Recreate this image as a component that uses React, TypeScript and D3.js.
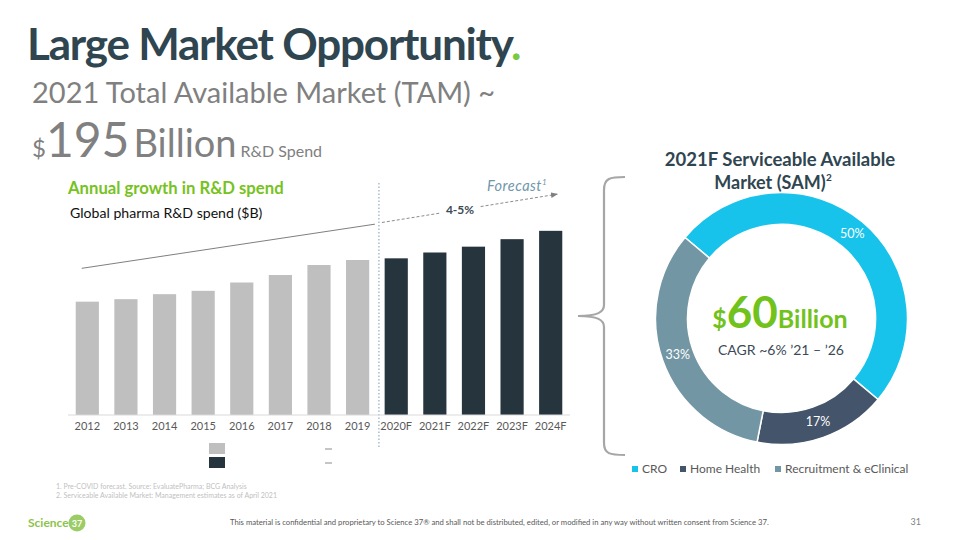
import React from 'react';
import * as d3 from 'd3';

// ---------- data ----------
const years = ['2012', '2013', '2014', '2015', '2016', '2017', '2018', '2019', '2020F', '2021F', '2022F', '2023F', '2024F'];
const rdSpend = [136, 139, 145, 149, 159, 168, 180, 186, 188, 195, 202, 211, 221];
const samLabels = ['CRO', 'Home Health', 'Recruitment & eClinical'];
const samShares = [50, 17, 33];
const samColors = ['#17c3ea', '#44546a', '#7396a5'];
const footnotes = [
  '1.  Pre-COVID forecast. Source: EvaluatePharma; BCG Analysis',
  '2.  Serviceable Available Market: Management estimates as of April 2021',
];

const FONT = "Lato, 'Open Sans', sans-serif";

export default function App() {
  const W = 960;
  const H = 540;

  // bar chart scales
  const x = d3.scaleBand<string>().domain(years).range([68, 570]).paddingInner(0.4).paddingOuter(0.2);
  const y = d3.scaleLinear().domain([0, 240]).range([415, 215]);
  const bw = x.bandwidth();
  const step = x.step();
  const splitX = (x('2020F') as number) - (step * 0.4) / 2 + 2;

  // annotation positions derived from scales
  const trendStart: [number, number] = [(x('2012') as number) + 6, y(176)];
  const trendEnd: [number, number] = [splitX - 4, y(229)];
  const fcStart: [number, number] = [splitX + 3, y(231)];
  const fcEnd: [number, number] = [(x('2024F') as number) + bw - 5, y(265)];

  // donut
  const cx = 781.5;
  const cy = 318.5;
  const outerR = 126;
  const innerR = 94;
  const startA = (-50 * Math.PI) / 180;
  const pie = d3
    .pie<number>()
    .sort(null)
    .value((d) => d)
    .startAngle(startA)
    .endAngle(startA + 2 * Math.PI);
  const arcs = pie(samShares);
  const arcGen = d3.arc<d3.PieArcDatum<number>>().innerRadius(innerR).outerRadius(outerR);
  const labelR = 110;

  const legendItems = [
    { x: 632, label: samLabels[0], color: samColors[0] },
    { x: 680, label: samLabels[1], color: samColors[1] },
    { x: 775, label: samLabels[2], color: samColors[2] },
  ];

  return (
    <div style={{ position: 'absolute', left: 0, top: 0, width: W, height: H, background: '#fff' }}>
      <svg width={W} height={H} style={{ display: 'block', fontFamily: FONT }}>
        <defs>
          <marker id="arrowHead" viewBox="0 0 10 10" refX="9" refY="5" markerWidth="7" markerHeight="7" orient="auto">
            <path d="M0,1 L10,5 L0,9 Z" fill="#7f7f7f" />
          </marker>
        </defs>
        <rect x={0} y={0} width={W} height={H} fill="#fff" />

        {/* Header */}
        <text x={27} y={60} fontSize={44} fontWeight={700} fill="#2f4550" letterSpacing={-1.2}>
          Large Market Opportunity<tspan fill="#7ac943">.</tspan>
        </text>
        <text x={32} y={103} fontSize={29} fill="#808080">
          2021 Total Available Market (TAM) ~
        </text>
        <text x={32} y={157} fill="#808080">
          <tspan fontSize={24}>$</tspan>
          <tspan fontSize={48}>195</tspan>
          <tspan fontSize={38} dx={4}>Billion</tspan>
          <tspan fontSize={16} dx={4}>R&amp;D Spend</tspan>
        </text>

        {/* Bar chart headings */}
        <text x={68} y={194} fontSize={16.7} fontWeight={700} fill="#76c21e">
          Annual growth in R&amp;D spend
        </text>
        <text x={70} y={218} fontSize={14.1} fill="#111">
          Global pharma R&amp;D spend ($B)
        </text>

        {/* split line */}
        <line x1={splitX} x2={splitX} y1={183} y2={447} stroke="#7d9db0" strokeWidth={1} strokeDasharray="1.5,2" />

        {/* bars */}
        {years.map((yr, i) => (
          <rect
            key={yr}
            x={x(yr)}
            y={y(rdSpend[i])}
            width={bw}
            height={y(0) - y(rdSpend[i])}
            fill={yr.endsWith('F') ? '#25343d' : '#bfbfbf'}
          />
        ))}
        {/* axis */}
        <line x1={x.range()[0]} x2={x.range()[1]} y1={y(0)} y2={y(0)} stroke="#d9d9d9" strokeWidth={1.2} />
        {years.map((yr) => (
          <text
            key={'t' + yr}
            x={(x(yr) as number) + bw / 2}
            y={430}
            fontSize={11}
            textAnchor="middle"
            fill="#595959"
          >
            {yr}
          </text>
        ))}

        {/* trend annotations */}
        <line x1={trendStart[0]} y1={trendStart[1]} x2={trendEnd[0]} y2={trendEnd[1]} stroke="#7f7f7f" strokeWidth={1} />
        <line
          x1={fcStart[0]}
          y1={fcStart[1]}
          x2={fcEnd[0]}
          y2={fcEnd[1]}
          stroke="#8c8c8c"
          strokeWidth={1}
          strokeDasharray="3,2"
          markerEnd="url(#arrowHead)"
        />
        <rect x={441} y={200} width={38} height={15} fill="#fff" />
        <text x={460} y={214} fontSize={12} fontWeight={700} fill="#3c4a54" textAnchor="middle">
          4-5%
        </text>
        <text x={487} y={191} fontSize={14.5} fontStyle="italic" fill="#6f97ab" letterSpacing={0.5}>
          Forecast<tspan fontSize={8} dy={-6}>1</tspan>
        </text>

        {/* bar legend (labels blank in source) */}
        <rect x={209} y={443} width={16} height={11} fill="#bfbfbf" />
        <rect x={209} y={457} width={16} height={11} fill="#25343d" />
        <line x1={325} x2={332} y1={449} y2={449} stroke="#8c8c8c" strokeWidth={1} />
        <line x1={325} x2={332} y1={463} y2={463} stroke="#8c8c8c" strokeWidth={1} />

        {/* brace */}
        <path
          d="M625,177 C610,177 604,178 604,190 L604,305 C604,312 598,316 578,316 C598,316 604,320 604,327 L604,443 C604,454 610,455 625,455"
          fill="none"
          stroke="#a6a6a6"
          strokeWidth={2.2}
        />

        {/* Donut title */}
        <text x={780} y={166} fontSize={18.5} fontWeight={700} fill="#2f4550" textAnchor="middle">
          2021F Serviceable Available
        </text>
        <text x={770} y={189} fontSize={18} fontWeight={700} fill="#2f4550" textAnchor="middle">
          Market (SAM)
        </text>
        <text x={826} y={181} fontSize={10} fontWeight={700} fill="#2f4550">
          2
        </text>

        {/* Donut */}
        <g transform={`translate(${cx},${cy})`}>
          {arcs.map((a, i) => (
            <path key={samLabels[i]} d={arcGen(a) as string} fill={samColors[i]} stroke="#fff" strokeWidth={1.5} />
          ))}
          {arcs.map((a, i) => {
            const mid = (a.startAngle + a.endAngle) / 2;
            return (
              <text
                key={'l' + i}
                x={Math.sin(mid) * labelR}
                y={-Math.cos(mid) * labelR + 4}
                fontSize={12.5}
                fill="#fff"
                textAnchor="middle"
              >
                {samShares[i]}%
              </text>
            );
          })}
        </g>
        <text x={780} y={328} textAnchor="middle" fill="#72c21c" fontWeight={700}>
          <tspan fontSize={25}>$</tspan>
          <tspan fontSize={44}>60</tspan>
          <tspan fontSize={25}>Billion</tspan>
        </text>
        <text x={781} y={355} fontSize={14} textAnchor="middle" fill="#3b4a56">
          CAGR ~6% ’21 – ’26
        </text>

        {/* donut legend */}
        {legendItems.map((it) => (
          <g key={it.label}>
            <rect x={it.x} y={466} width={6} height={6} fill={it.color} />
            <text x={it.x + 10} y={473} fontSize={12} fill="#595959">
              {it.label}
            </text>
          </g>
        ))}

        {/* footnotes */}
        {footnotes.map((f, i) => (
          <text key={f} x={56} y={489 + i * 8.5} fontSize={7} fill="#bfbfbf">
            {f}
          </text>
        ))}

        {/* footer */}
        <text x={28} y={527} fontSize={12} fontWeight={700} fill="#8dc34a">
          Science
        </text>
        <circle cx={77} cy={523} r={8.5} fill="#9ccc65" />
        <text x={77} y={526.5} fontSize={9} fontWeight={700} fill="#fff" textAnchor="middle">
          37
        </text>
        <text x={230} y={525} fontSize={7.7} fill="#595959">
          This material is confidential and proprietary to Science 37® and shall not be distributed, edited, or modified in any way without written consent from Science 37.
        </text>
        <text x={921} y={525} fontSize={9} fill="#7f7f7f" textAnchor="end">
          31
        </text>
      </svg>
    </div>
  );
}
